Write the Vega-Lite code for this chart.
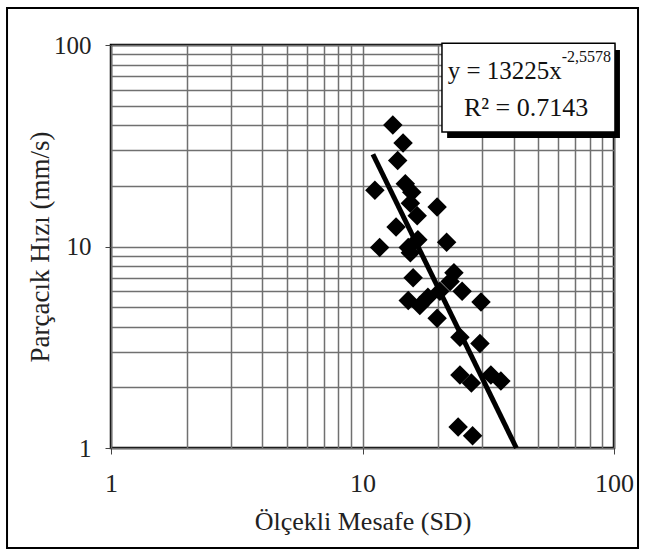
{
  "$schema": "https://vega.github.io/schema/vega-lite/v6.json",
  "autosize": {"type": "none"},
  "padding": {"left": 111, "top": 45, "right": 32, "bottom": 105},
  "width": 503,
  "height": 403,
  "background": "white",
  "config": {
    "font": "Liberation Serif",
    "view": {"stroke": "black", "strokeWidth": 2.5},
    "axis": {
      "labelFont": "Liberation Serif",
      "titleFont": "Liberation Serif",
      "labelColor": "#222",
      "titleColor": "#222",
      "titleFontWeight": "normal",
      "domain": false,
      "gridColor": "#707070",
      "gridWidth": 1.5,
      "gridOpacity": 1,
      "tickColor": "#444",
      "tickSize": 6,
      "tickWidth": 1,
      "labelOverlap": false,
      "labelFlush": false,
      "labelBound": false
    }
  },
  "data": {
    "values": [
      {"SD": 13.2, "PPV": 40.1},
      {"SD": 14.5, "PPV": 32.6},
      {"SD": 13.8, "PPV": 26.7},
      {"SD": 11.2, "PPV": 19.0},
      {"SD": 14.8, "PPV": 20.5},
      {"SD": 15.7, "PPV": 18.6},
      {"SD": 15.5, "PPV": 16.4},
      {"SD": 19.8, "PPV": 15.7},
      {"SD": 16.5, "PPV": 14.2},
      {"SD": 13.6, "PPV": 12.5},
      {"SD": 16.6, "PPV": 10.8},
      {"SD": 11.7, "PPV": 9.9},
      {"SD": 15.2, "PPV": 9.9},
      {"SD": 21.6, "PPV": 10.5},
      {"SD": 15.5, "PPV": 9.3},
      {"SD": 15.9, "PPV": 7.0},
      {"SD": 23.1, "PPV": 7.4},
      {"SD": 22.3, "PPV": 6.7},
      {"SD": 15.2, "PPV": 5.4},
      {"SD": 16.9, "PPV": 5.1},
      {"SD": 18.2, "PPV": 5.6},
      {"SD": 20.3, "PPV": 6.0},
      {"SD": 24.9, "PPV": 6.0},
      {"SD": 29.6, "PPV": 5.3},
      {"SD": 19.8, "PPV": 4.4},
      {"SD": 24.4, "PPV": 3.55},
      {"SD": 29.3, "PPV": 3.3},
      {"SD": 24.4, "PPV": 2.3},
      {"SD": 27.1, "PPV": 2.1},
      {"SD": 32.4, "PPV": 2.3},
      {"SD": 35.5, "PPV": 2.15},
      {"SD": 24.0, "PPV": 1.27},
      {"SD": 27.4, "PPV": 1.15}
    ]
  },
  "layer": [
    {
      "mark": {"type": "point", "shape": "diamond", "filled": true, "color": "black", "size": 380, "opacity": 1},
      "encoding": {
        "x": {
          "field": "SD", "type": "quantitative",
          "scale": {"type": "log", "domain": [1, 100], "nice": false},
          "axis": {
            "title": "Ölçekli Mesafe (SD)",
            "values": [1,2,3,4,5,6,7,8,9,10,20,30,40,50,60,70,80,90,100],
            "labelExpr": "(datum.value == 1 || datum.value == 10 || datum.value == 100) ? format(datum.value, 'd') : ''",
            "tickOpacity": {"condition": {"test": "datum.value == 1 || datum.value == 10 || datum.value == 100", "value": 1}, "value": 0},
            "labelFontSize": 26,
            "labelPadding": 16,
            "titleFontSize": 26,
            "titleBaseline": "middle",
            "titleY": 73
          }
        },
        "y": {
          "field": "PPV", "type": "quantitative",
          "scale": {"type": "log", "domain": [1, 100], "nice": false},
          "axis": {
            "title": "Parçacık Hızı (mm/s)",
            "values": [1,2,3,4,5,6,7,8,9,10,20,30,40,50,60,70,80,90,100],
            "labelExpr": "(datum.value == 1 || datum.value == 10 || datum.value == 100) ? format(datum.value, 'd') : ''",
            "tickOpacity": {"condition": {"test": "datum.value == 1 || datum.value == 10 || datum.value == 100", "value": 1}, "value": 0},
            "labelFontSize": 25,
            "labelPadding": 14,
            "titleFontSize": 27,
            "titleAngle": -90,
            "titleBaseline": "middle",
            "titleAlign": "center",
            "titleX": -71,
            "titleY": 201.5
          }
        }
      }
    },
    {
      "data": {"values": [{"SD": 11.0, "PPV": 28.7}, {"SD": 40.9, "PPV": 1.0}]},
      "mark": {"type": "line", "color": "black", "strokeWidth": 5},
      "encoding": {
        "x": {"field": "SD", "type": "quantitative"},
        "y": {"field": "PPV", "type": "quantitative"}
      }
    },
    {
      "data": {"values": [{}]},
      "mark": {"type": "rect", "fill": "black"},
      "encoding": {
        "x": {"datum": 21.7}, "x2": {"datum": 105.6},
        "y": {"datum": 94.5}, "y2": {"datum": 34.6}
      }
    },
    {
      "data": {"values": [{}]},
      "mark": {"type": "rect", "fill": "white", "stroke": "black", "strokeWidth": 1.5},
      "encoding": {
        "x": {"datum": 20.7}, "x2": {"datum": 100.9},
        "y": {"datum": 102}, "y2": {"datum": 37.0}
      }
    },
    {
      "data": {"values": [{}]},
      "mark": {"type": "text", "text": "y = 13225x", "font": "Liberation Serif", "fontSize": 25, "align": "right", "baseline": "alphabetic", "color": "#111"},
      "encoding": {"x": {"datum": 62.0}, "y": {"datum": 68}}
    },
    {
      "data": {"values": [{}]},
      "mark": {"type": "text", "text": "-2,5578", "font": "Liberation Serif", "fontSize": 16, "align": "left", "baseline": "alphabetic", "color": "#111"},
      "encoding": {"x": {"datum": 62.0}, "y": {"datum": 82}}
    },
    {
      "data": {"values": [{}]},
      "mark": {"type": "text", "text": "R² = 0.7143", "font": "Liberation Serif", "fontSize": 26, "align": "center", "baseline": "alphabetic", "color": "#111"},
      "encoding": {"x": {"datum": 44.7}, "y": {"datum": 44.3}}
    },
    {
      "data": {"values": [{}]},
      "mark": {"type": "rect", "fill": null, "fillOpacity": 0, "stroke": "black", "strokeWidth": 2},
      "encoding": {
        "x": {"datum": 0.386}, "x2": {"datum": 124.6},
        "y": {"datum": 152.6}, "y2": {"datum": 0.319}
      }
    }
  ]
}
